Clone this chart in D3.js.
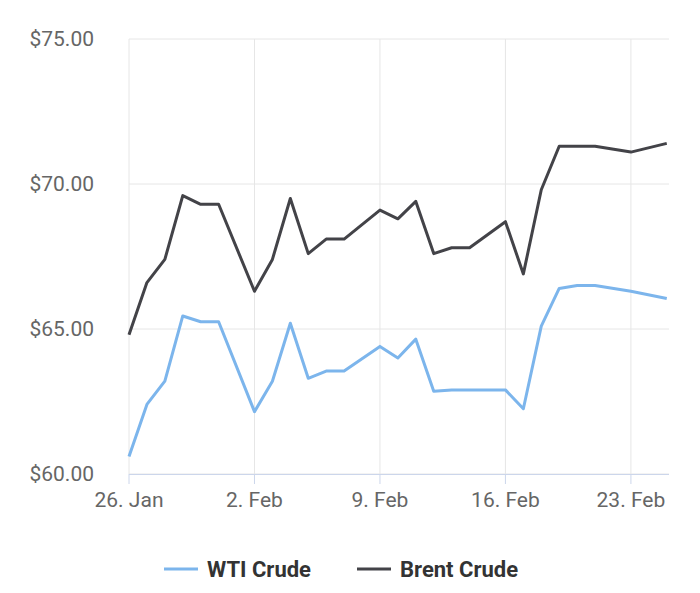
<!DOCTYPE html>
<html><head><meta charset="utf-8">
<script src="https://cdn.jsdelivr.net/npm/d3@7"></script>
<style>body{margin:0;background:#fff}text{font-family:Roboto,sans-serif}</style>
</head><body><svg id="c" width="700" height="593"></svg>
<script>
const dayOffsets = [0,1,2,3,4,5,7,8,9,10,11,12,14,15,16,17,18,19,21,22,23,24,25,26,28,30];
const wti = [60.6,62.4,63.2,65.45,65.25,65.25,62.15,63.2,65.2,63.3,63.55,63.55,64.4,64.0,64.65,62.85,62.9,62.9,62.9,62.25,65.1,66.4,66.5,66.5,66.3,66.05];
const brent = [64.8,66.6,67.4,69.6,69.3,69.3,66.3,67.4,69.5,67.6,68.1,68.1,69.1,68.8,69.4,67.6,67.8,67.8,68.7,66.9,69.8,71.3,71.3,71.3,71.1,71.4];
const yTicks = [60,65,70,75];
const series = [{name:"WTI Crude",values:wti,color:"#7cb5ec"},{name:"Brent Crude",values:brent,color:"#434348"}];

const start = new Date(2018,0,26);
const dates = dayOffsets.map(d => d3.timeDay.offset(start, d));
const svg = d3.select("#c");
const x = d3.scaleTime().domain([start, new Date(2018,1,25,3)]).range([129,669]);
const y = d3.scaleLinear().domain([60,75]).range([474,39]);
const xTicks = [0,7,14,21,28].map(d => d3.timeDay.offset(start,d));
const fmt = d3.timeFormat("%-d. %b");

svg.append("g").selectAll("line").data(xTicks).join("line")
  .attr("x1",d=>x(d)).attr("x2",d=>x(d)).attr("y1",39).attr("y2",474).attr("stroke","#e6e6e6");
svg.append("g").selectAll("line").data(yTicks).join("line")
  .attr("x1",129).attr("x2",669).attr("y1",d=>y(d)).attr("y2",d=>y(d)).attr("stroke","#e6e6e6");
svg.append("line").attr("x1",129).attr("x2",669).attr("y1",474.5).attr("y2",474.5).attr("stroke","#ccd6eb");
svg.append("g").selectAll("line").data(xTicks).join("line")
  .attr("x1",d=>x(d)).attr("x2",d=>x(d)).attr("y1",474).attr("y2",484).attr("stroke","#ccd6eb");
svg.append("g").selectAll("text").data(xTicks).join("text")
  .attr("x",d=>x(d)).attr("y",507).attr("text-anchor","middle").attr("font-size",21).attr("fill","#666").text(fmt);
svg.append("g").selectAll("text").data(yTicks).join("text")
  .attr("x",94).attr("y",d=>y(d)+7).attr("text-anchor","end").attr("font-size",21).attr("fill","#666")
  .text(d=>"$"+d.toFixed(2));

const line = d3.line().x((d,i)=>x(dates[i])).y(d=>y(d));
series.forEach(s => svg.append("path").attr("d",line(s.values)).attr("fill","none")
  .attr("stroke",s.color).attr("stroke-width",3).attr("stroke-linejoin","round"));

const lg = svg.append("g");
const lx = [164,357];
series.forEach((s,i)=>{
  lg.append("line").attr("x1",lx[i]).attr("x2",lx[i]+34).attr("y1",569).attr("y2",569).attr("stroke",s.color).attr("stroke-width",3);
  lg.append("text").attr("x",lx[i]+43).attr("y",577).attr("font-size",22).attr("font-weight","bold").attr("fill","#333").text(s.name);
});
</script></body></html>
